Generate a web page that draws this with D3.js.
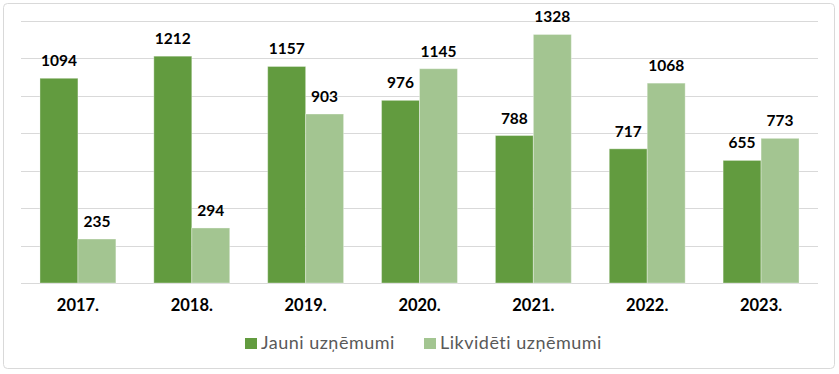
<!DOCTYPE html>
<html>
<head>
<meta charset="utf-8">
<script src="https://cdn.jsdelivr.net/npm/d3@7"></script>
<style>
  body { margin: 0; background: #fff; }
  text { font-family: Lato, "Open Sans", sans-serif; }
</style>
</head>
<body>
<script>
var width = 839,
    height = 374;

var years = ["2017.", "2018.", "2019.", "2020.", "2021.", "2022.", "2023."];
var jauni = [1094, 1212, 1157, 976, 788, 717, 655];
var likvideti = [235, 294, 903, 1145, 1328, 1068, 773];
var seriesNames = ["Jauni uzņēmumi", "Likvidēti uzņēmumi"];
var colors = ["#629b3f", "#a3c591"];
var yTicks = [0, 200, 400, 600, 800, 1000, 1200, 1400];

var margin = {left: 21, right: 21, top: 21, bottom: 91};

var svg = d3.select("body").append("svg")
    .attr("width", width)
    .attr("height", height);

// chart border
svg.append("rect")
    .attr("x", 3.5).attr("y", 3.5)
    .attr("width", 831).attr("height", 365)
    .attr("rx", 4)
    .attr("fill", "#fff")
    .attr("stroke", "#d9d9d9");

var x = d3.scaleBand()
    .domain(years)
    .range([margin.left, width - margin.right])
    .paddingInner(0)
    .paddingOuter(0);

var inner = d3.scaleBand()
    .domain([0, 1])
    .range([x.bandwidth() / 6, x.bandwidth() * 5 / 6]);

var y = d3.scaleLinear()
    .domain([0, 1400])
    .range([height - margin.bottom, margin.top]);

// gridlines
svg.append("g")
  .selectAll("line")
  .data(yTicks)
  .enter().append("line")
    .attr("x1", margin.left)
    .attr("x2", width - margin.right)
    .attr("y1", function(d) { return Math.round(y(d)) + 0.5; })
    .attr("y2", function(d) { return Math.round(y(d)) + 0.5; })
    .attr("stroke", "#d9d9d9")
    .attr("stroke-width", 1);

var rows = years.map(function(yr, i) {
  return {year: yr, values: [jauni[i], likvideti[i]]};
});

var groups = svg.append("g")
  .selectAll("g")
  .data(rows)
  .enter().append("g")
    .attr("transform", function(d) { return "translate(" + x(d.year) + ",0)"; });

groups.selectAll("rect")
  .data(function(d) { return d.values; })
  .enter().append("rect")
    .attr("x", function(d, i) { return inner(i); })
    .attr("y", function(d) { return y(d); })
    .attr("width", inner.bandwidth())
    .attr("height", function(d) { return y(0) - y(d); })
    .attr("fill", function(d, i) { return colors[i]; })
    .attr("stroke", "rgba(255,255,255,0.35)")
    .attr("stroke-width", 1);

groups.selectAll("text.val")
  .data(function(d) { return d.values; })
  .enter().append("text")
    .attr("class", "val")
    .attr("x", function(d, i) { return inner(i) + inner.bandwidth() / 2; })
    .attr("y", function(d) { return y(d) - 12; })
    .attr("text-anchor", "middle")
    .attr("font-size", "15.5px")
    .attr("font-weight", "bold")
    .attr("fill", "#000")
    .text(function(d) { return d; });

// x labels
svg.append("g")
  .selectAll("text")
  .data(years)
  .enter().append("text")
    .attr("x", function(d) { return x(d) + x.bandwidth() / 2; })
    .attr("y", 311)
    .attr("text-anchor", "middle")
    .attr("font-size", "16.5px")
    .attr("font-weight", "bold")
    .attr("fill", "#000")
    .text(function(d) { return d; });

// legend
var legendX = [245, 424];
var legend = svg.append("g")
  .selectAll("g")
  .data(seriesNames)
  .enter().append("g")
    .attr("transform", function(d, i) { return "translate(" + legendX[i] + ",338)"; });

legend.append("rect")
    .attr("width", 12).attr("height", 11)
    .attr("fill", function(d, i) { return colors[i]; });

legend.append("text")
    .attr("x", 16)
    .attr("y", 11)
    .attr("font-size", "18px")
    .attr("letter-spacing", "0.5px")
    .attr("fill", "#595959")
    .text(function(d) { return d; });
</script>
</body>
</html>
